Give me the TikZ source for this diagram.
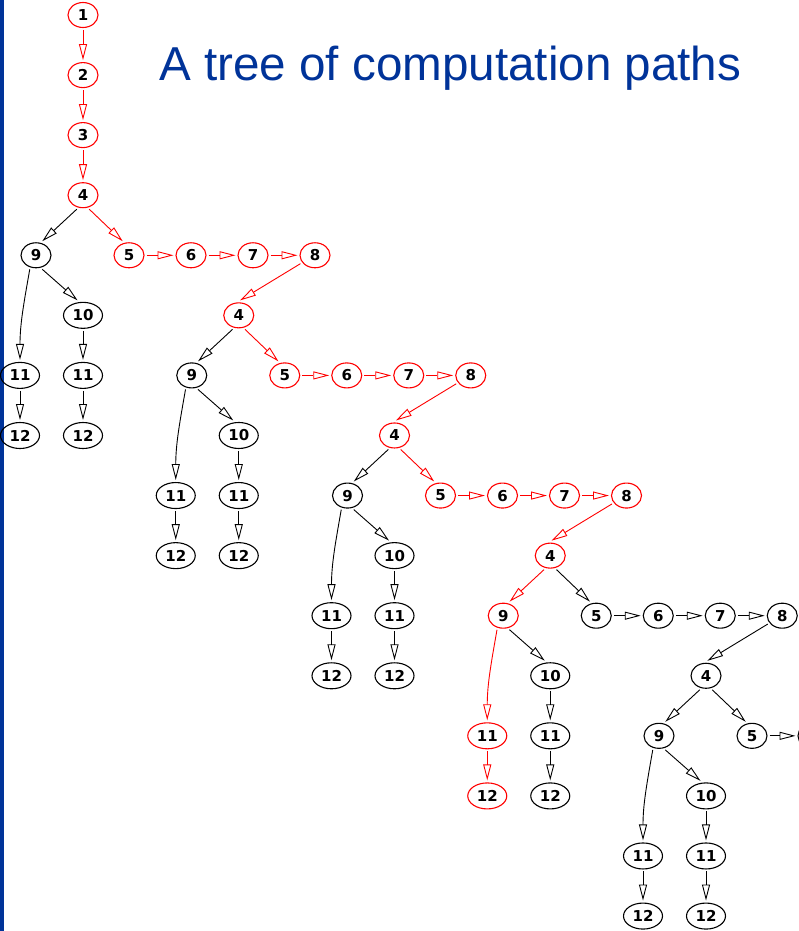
\documentclass[tikz,border=0pt]{standalone}
\usepackage{fontspec}
\setmainfont{Liberation Sans}
\newfontfamily\nodefont{DejaVu Sans}
\usetikzlibrary{shapes.geometric,arrows.meta}
\definecolor{titleblue}{RGB}{0,51,153}
\definecolor{hot}{RGB}{255,0,0}
\begin{document}
\begin{tikzpicture}[x=1pt,y=1pt,
  st/.style={ellipse,draw=#1,line width=1.1pt,inner sep=0pt,outer sep=2.5pt,
    minimum width=30pt,minimum height=25pt,text=black,
    font=\nodefont\bfseries\fontsize{15}{15}\selectfont},
  st/.default=black,
  wide/.style={minimum width=39pt,minimum height=26pt},
  link/.style={draw=#1,line width=0.9pt,
    -{Triangle[open,length=16pt,width=8pt,line width=0.9pt]}},
  link/.default=black]

\useasboundingbox (0,0) rectangle (799,-931);
\clip (0,0) rectangle (799,-931);

% side bar and heading
\fill[titleblue] (0,0) rectangle (4,-931);
\node[anchor=base west,inner sep=0pt,text=titleblue,
      font=\fontsize{47.6}{47.6}\selectfont] (title) at (159,-80.5)
      {A tree of computation paths};

% initial steps
\node[st=hot] (r1) at (83,-15) {1};
\node[st=hot] (r2) at (83,-75.1) {2};
\node[st=hot] (r3) at (83,-135.1) {3};
\draw[link=hot] (r1) -- (r2);
\draw[link=hot] (r2) -- (r3);

% repeated loop blocks, each starting at a node 4
\foreach \b in {1,...,5}{
  \pgfmathsetmacro\bx{83+155.75*(\b-1)}
  \pgfmathsetmacro\by{-195.2-120.14*(\b-1)}
  \ifnum\b<5 \def\cA{hot}\else\def\cA{black}\fi
  \ifnum\b<4 \def\cB{hot}\else\def\cB{black}\fi
  \ifnum\b=4 \def\cC{hot}\else\def\cC{black}\fi
  \node[st=\cA] (f\b) at (\bx,\by) {4};
  \node[st=\cC] (n\b) at (\bx-47,\by-60.07) {9};
  \node[st=\cB] (v\b) at (\bx+46,\by-60.07) {5};
  \node[st,wide] (t\b) at (\bx,\by-120.14) {10};
  \node[st=\cC,wide] (la\b) at (\bx-63,\by-180.2) {11};
  \node[st,wide] (lb\b) at (\bx,\by-180.2) {11};
  \node[st=\cC,wide] (ma\b) at (\bx-63,\by-240.3) {12};
  \node[st,wide] (mb\b) at (\bx,\by-240.3) {12};
  \ifnum\b=1
    \draw[link=hot] (r3) -- (f1);
  \else
    \pgfmathtruncatemacro\p{\b-1}
    \draw[link=\cA] (e\p.-150) -- (f\b.85);
  \fi
  \draw[link=\cC] (f\b.-114) -- (n\b.66);
  \draw[link=\cB] (f\b.-66) -- (v\b.114);
  \draw[link=\cC] (n\b.-114) to[out=-100,in=90] (la\b.north);
  \draw[link] (n\b.-66) -- (t\b.110);
  \draw[link] (t\b) -- (lb\b);
  \draw[link=\cC] (la\b) -- (ma\b);
  \draw[link] (lb\b) -- (mb\b);
  \ifnum\b<5
    \node[st=\cB] (s\b) at (\bx+108,\by-60.07) {6};
    \node[st=\cB] (w\b) at (\bx+170,\by-60.07) {7};
    \node[st=\cB] (e\b) at (\bx+232,\by-60.07) {8};
    \draw[link=\cB] (v\b) -- (s\b);
    \draw[link=\cB] (s\b) -- (w\b);
    \draw[link=\cB] (w\b) -- (e\b);
  \else
    % next step lies past the right edge; only its border shows
    \node[st] (s\b) at (\bx+107,\by-60.07) {};
    \draw[link] (v\b) -- (s\b);
  \fi
}
\end{tikzpicture}
\end{document}
